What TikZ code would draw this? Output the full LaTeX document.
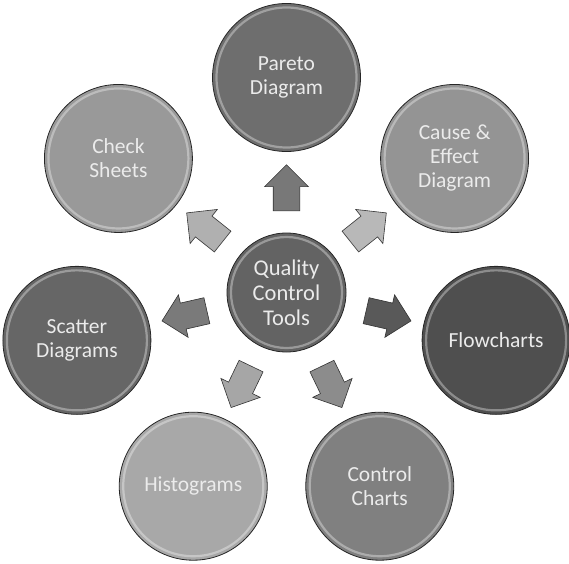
\documentclass[tikz,border=0pt]{standalone}
\usepackage{fontspec}
\setmainfont{Carlito}
\usetikzlibrary{shapes.arrows,calc}

\begin{document}
\begin{tikzpicture}[x=1pt,y=1pt,
    gloss/.style={path picture={\draw[white,opacity=.35,line width=2.2pt]
      (path picture bounding box.center) circle (#1);}},
    tool/.style={circle,draw=black!85,line width=.8pt,minimum size=148pt,
      inner sep=0pt,align=center,text=black!8,
      font=\fontsize{21.5}{24}\selectfont,gloss=70pt},
    hub/.style={tool,minimum size=119pt,font=\fontsize{22.5}{25}\selectfont,
      gloss=55.5pt},
    blockarrow/.style={single arrow,draw=black!80,line width=.6pt,
      minimum height=46pt,inner xsep=0pt,inner ysep=13pt,
      single arrow head extend=8.5pt,single arrow head indent=0pt}]
    \useasboundingbox (0,0) rectangle (569,563);
    \node[hub,fill=black!61] (qct) at (286.5,270.5) {Quality\\Control\\Tools};
    \node[tool,fill=black!57] (pareto) at ([shift={(90:215)}]qct.center) {Pareto\\Diagram};
    \node[tool,fill=black!42] (cause) at ([shift={(38.57:215)}]qct.center) {Cause \&\\Effect\\Diagram};
    \node[tool,fill=black!69] (flow) at ([shift={(-12.86:215)}]qct.center) {Flowcharts};
    \node[tool,fill=black!50] (control) at ([shift={(-64.29:215)}]qct.center) {Control\\Charts};
    \node[tool,fill=black!34] (histo) at ([shift={(-115.71:215)}]qct.center) {Histograms};
    \node[tool,fill=black!60] (scatter) at ([shift={(-167.14:215)}]qct.center) {Scatter\\Diagrams};
    \node[tool,fill=black!40] (check) at ([shift={(141.43:215)}]qct.center) {Check\\Sheets};
    % arrows from the hub
    \node[blockarrow,fill=black!53,rotate=90] (toPareto) at ($(qct)!.456!(pareto)$) {};
    \node[blockarrow,fill=black!28,rotate=38.57] (toCause) at ($(qct)!.456!(cause)$) {};
    \node[blockarrow,fill=black!65,rotate=-12.86] (toFlow) at ($(qct)!.456!(flow)$) {};
    \node[blockarrow,fill=black!45,rotate=-64.29] (toControl) at ($(qct)!.456!(control)$) {};
    \node[blockarrow,fill=black!35,rotate=-115.71] (toHisto) at ($(qct)!.456!(histo)$) {};
    \node[blockarrow,fill=black!52,rotate=-167.14] (toScatter) at ($(qct)!.456!(scatter)$) {};
    \node[blockarrow,fill=black!31,rotate=141.43] (toCheck) at ($(qct)!.456!(check)$) {};
  \end{tikzpicture}
\end{document}
